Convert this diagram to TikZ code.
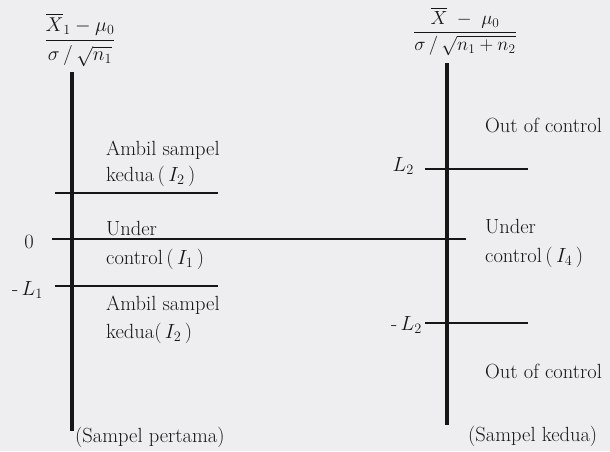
\RequirePackage{fix-cm}
\documentclass[tikz,border=0pt]{standalone}
\usepackage{amsmath}
\definecolor{bgc}{RGB}{238,238,240}
\definecolor{ink}{RGB}{22,22,22}
\begin{document}
\begin{tikzpicture}[x=1pt,y=-1pt,
  every node/.style={font=\fontsize{20.5}{23}\selectfont, inner sep=0pt, text=ink},
  thickline/.style={draw=ink, line width=3.8pt},
  thinline/.style={draw=ink, line width=1.6pt},
  lbl/.style={anchor=base west}]
\fill[bgc] (0,0) rectangle (610,451);
\useasboundingbox (0,0) rectangle (610,451);

% formulas
\node[anchor=base, font=\fontsize{20}{22}\selectfont] (f1) at (80,45)
  {$\dfrac{\overline{X}_1-\mu_0}{\rule{0pt}{18pt}\sigma\,/\,\sqrt{n_1}}$};
\node[anchor=base, font=\fontsize{19}{21}\selectfont] (f2) at (465,37)
  {$\dfrac{\overline{X}\;-\;\mu_0}{\rule{0pt}{16pt}\sigma\,/\,\sqrt{n_1+n_2}}$};

% left axis
\coordinate (lt) at (72,72);
\coordinate (lb) at (72,431);
\draw[thickline] (lt) -- (lb);
\coordinate (a1) at (55,193); \coordinate (a2) at (218,193);
\coordinate (z1) at (52,239); \coordinate (z2) at (466,239);
\coordinate (b1) at (55,286); \coordinate (b2) at (218,286);
\draw[thinline] (a1) -- (a2);
\draw[thinline] (z1) -- (z2);
\draw[thinline] (b1) -- (b2);

% right axis
\coordinate (rt) at (447,63);
\coordinate (rb) at (447,425);
\draw[thickline] (rt) -- (rb);
\coordinate (u1) at (425,169); \coordinate (u2) at (528,169);
\coordinate (d1) at (425,323); \coordinate (d2) at (528,323);
\draw[thinline] (u1) -- (u2);
\draw[thinline] (d1) -- (d2);

% left labels
\node[lbl] (t1) at (106,155) {Ambil sampel};
\node[lbl] (t2) at (106,181) {kedua\,(\,$I_2$\,)};
\node[lbl] (t3) at (106,235) {Under};
\node[lbl] (t4) at (106,264) {control\,(\,$I_1$\,)};
\node[lbl] (t5) at (106,310) {Ambil sampel};
\node[lbl] (t6) at (106,338) {kedua(\,$I_2$\,)};
\node (zero) at (29,242) {0};
\node[anchor=east] (mL1) at (43,290) {-\,$L_1$};
\node[lbl] (s1) at (75,442) {(Sampel pertama)};

% right labels
\node[lbl] (o1) at (485,132) {Out of control};
\node[lbl] (r3) at (485,233) {Under};
\node[lbl] (r4) at (485,262) {control\,(\,$I_4$\,)};
\node[lbl] (o2) at (485,378) {Out of control};
\node[anchor=east] (L2) at (414,166) {$L_2$};
\node[anchor=east] (mL2) at (422,325) {-\,$L_2$};
\node[lbl] (s2) at (468,441) {(Sampel kedua)};
\end{tikzpicture}
\end{document}
